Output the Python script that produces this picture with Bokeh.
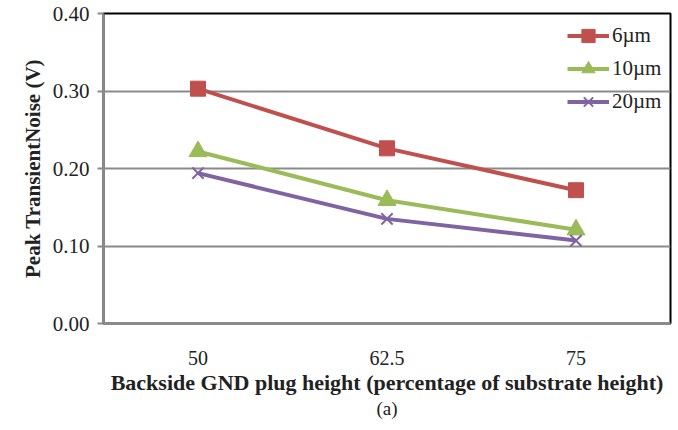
from bokeh.plotting import figure
from bokeh.models import FactorRange, Range1d, NumeralTickFormatter, FixedTicker, Legend, LegendItem, Title
from bokeh.embed import file_html
from bokeh.resources import INLINE

categories = ["50", "62.5", "75"]
s6 = [0.303, 0.226, 0.172]
s10 = [0.222, 0.159, 0.121]
s20 = [0.194, 0.135, 0.107]
series_names = ["6µm", "10µm", "20µm"]
y_ticks = [0.0, 0.1, 0.2, 0.3, 0.4]

FONT = "Liberation Serif"

p = figure(width=678, height=430, x_range=FactorRange(*categories), y_range=Range1d(0, 0.4),
           output_backend="svg", toolbar_location=None,
           min_border_left=103, min_border_right=8, min_border_top=13, min_border_bottom=107)
p.background_fill_color = "white"
p.border_fill_color = "white"
p.outline_line_color = "black"
p.outline_line_width = 2

p.xgrid.visible = False
p.ygrid.grid_line_color = "#8a8a8a"
p.ygrid.grid_line_width = 2

p.yaxis.ticker = FixedTicker(ticks=y_ticks)
p.yaxis.formatter = NumeralTickFormatter(format="0.00")
p.yaxis.axis_line_color = "#8a8a8a"
p.yaxis.axis_line_width = 2
p.yaxis.major_tick_line_color = "#8a8a8a"
p.yaxis.major_tick_line_width = 2
p.yaxis.major_tick_out = 6
p.yaxis.major_tick_in = 0
p.yaxis.minor_tick_line_color = None
p.yaxis.major_label_text_font = FONT
p.yaxis.major_label_text_font_size = "21px"
p.yaxis.major_label_text_color = "#222222"
p.yaxis.major_label_standoff = 8
p.yaxis.axis_label = "Peak TransientNoise (V)"
p.yaxis.axis_label_text_font = FONT
p.yaxis.axis_label_text_font_style = "bold"
p.yaxis.axis_label_text_font_size = "21px"
p.yaxis.axis_label_text_color = "#222222"
p.yaxis.axis_label_standoff = 5

p.xaxis.axis_line_color = "#8a8a8a"
p.xaxis.axis_line_width = 3
p.xaxis.major_tick_line_color = None
p.xaxis.minor_tick_line_color = None
p.xaxis.major_label_text_font = FONT
p.xaxis.major_label_text_font_size = "20px"
p.xaxis.major_label_text_color = "#222222"
p.xaxis.major_label_standoff = 21
p.xaxis.axis_label = "Backside GND plug height (percentage of substrate height)"
p.xaxis.axis_label_text_font = FONT
p.xaxis.axis_label_text_font_style = "bold"
p.xaxis.axis_label_text_font_size = "22px"
p.xaxis.axis_label_text_color = "#222222"
p.xaxis.axis_label_standoff = 2

colors = ["#C0504D", "#9BBB59", "#8064A2"]
markers = ["square", "triangle", "x"]
sizes = [15, 18, 16]
data = [s6, s10, s20]
items = []
for name, vals, c, m, s in zip(series_names, data, colors, markers, sizes):
    r1 = p.line(categories, vals, line_color=c, line_width=4)
    if m == "x":
        r2 = p.scatter(categories, vals, marker=m, size=s, line_color=c, line_width=2)
    else:
        r2 = p.scatter(categories, vals, marker=m, size=s, fill_color=c, line_color=c)
    items.append(LegendItem(label=name, renderers=[r1, r2]))

legend = Legend(items=items, location=(464, 205), padding=0, margin=0,
                glyph_width=42, glyph_height=33, label_height=33, spacing=0,
                label_standoff=3, background_fill_alpha=0, border_line_color=None,
                label_text_font=FONT, label_text_font_size="21px", label_text_color="#222222")
p.add_layout(legend, "center")

t = Title(text="(a)", align="center", text_font=FONT, text_font_size="19px",
          text_font_style="normal", text_color="#222222", standoff=-3)
p.add_layout(t, "below")

open("out.html", "w").write(file_html(p, INLINE))
